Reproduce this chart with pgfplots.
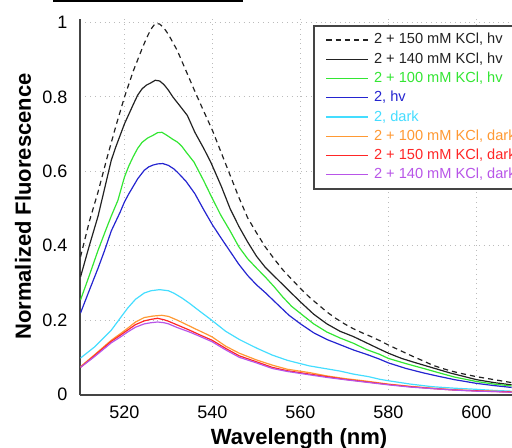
\documentclass[border=0pt]{standalone}
\usepackage{fontspec}
\setmainfont{Liberation Sans}
\usepackage{pgfplots}
\pgfplotsset{compat=1.18}

\definecolor{kBlack} {HTML}{222222}
\definecolor{kGreen} {HTML}{33E633}
\definecolor{kBlue}  {HTML}{2424D0}
\definecolor{kCyan}  {HTML}{44DDFF}
\definecolor{kOrange}{HTML}{FF9933}
\definecolor{kRed}   {HTML}{FF2626}
\definecolor{kPurple}{HTML}{B855E8}
\definecolor{kAxis}  {HTML}{444444}
\definecolor{kGrid}  {HTML}{BBBBBB}

\begin{document}
\begin{tikzpicture}
\path[use as bounding box] (-40.25pt,-26.25pt) rectangle (215.75pt,197.25pt);
\draw[black,line width=1pt] (-13.75pt,196.75pt) -- (81.25pt,196.75pt);
\begin{axis}[
  scale only axis,
  width=216pt, height=188pt,
  xmin=510, xmax=608.2, ymin=0, ymax=1.011,
  axis lines=left,
  axis line style={-,color=kAxis,line width=1pt},
  xtick={520,540,560,580,600},
  ytick={0,0.2,0.4,0.6,0.8,1},
  major tick length=0pt,
  tick label style={font=\fontsize{9}{10}\selectfont,color=black},
  /pgf/number format/assume math mode=true,
  xticklabel style={yshift=-2pt},
  yticklabel style={xshift=-3pt},
  grid=major,
  grid style={dotted,color=kGrid,line width=0.5pt},
  xlabel={\bfseries Wavelength (nm)},
  ylabel={\bfseries Normalized Fluorescence},
  label style={font=\fontsize{11}{12}\selectfont},
  xlabel style={anchor=center,at={(axis description cs:0.506,-0.118)}},
  ylabel style={anchor=center,at={(axis description cs:-0.133,0.5)}},
  legend cell align=left,
  legend image code/.code={\draw[#1] (0pt,0pt) -- (21pt,0pt);},
  legend style={
    at={(0.539,0.984)}, anchor=north west,
    draw=kAxis, line width=1pt, fill=white,
    font=\fontsize{7.3}{9}\selectfont,
    inner xsep=5.75pt, inner ysep=3.6pt,
    row sep=2.44pt,
    nodes={inner sep=0pt, text height=5.6pt, text depth=1.6pt},
    /tikz/every odd column/.append style={column sep=2.5pt},
  },
]
\addplot[kBlack,line width=0.6pt,dash pattern=on 2.6pt off 2pt] coordinates {
(510,0.37)(512,0.465)(514,0.545)(516,0.635)(518,0.72)(520,0.80)(522,0.87)
(524,0.93)(525,0.958)(526,0.982)(527,0.998)(528,0.996)(529,0.985)(530,0.968)
(532,0.925)(534,0.87)(536,0.815)(538,0.762)(540,0.71)(542,0.65)(544,0.59)
(546,0.53)(548,0.475)(550,0.435)(552,0.397)(554,0.365)(556,0.335)(558,0.31)
(560,0.285)(562,0.262)(564,0.242)(566,0.222)(568,0.205)(570,0.19)(572,0.177)
(574,0.166)(576,0.156)(578,0.145)(580,0.133)(582,0.122)(584,0.111)(586,0.100)
(588,0.090)(590,0.079)(592,0.071)(594,0.064)(596,0.058)(598,0.053)(600,0.048)
(602,0.044)(604,0.040)(606,0.036)(608,0.032)};
\addlegendentry{\textcolor{kBlack}{2 + 150 mM KCl, hv}}
\addplot[kBlack,line width=0.6pt] coordinates {
(510,0.316)(512,0.40)(514,0.48)(516,0.58)(517,0.63)(518,0.665)(520,0.728)
(522,0.78)(523,0.805)(524,0.822)(525,0.832)(526,0.838)(527,0.845)(528,0.843)
(529,0.833)(530,0.818)(531,0.80)(533,0.77)(534.3,0.75)(536,0.705)(538,0.662)
(539.6,0.625)(542,0.56)(544,0.5)(546,0.452)(548,0.41)(550,0.372)(552,0.342)
(555,0.307)(558,0.272)(560,0.249)(563,0.216)(566,0.19)(569,0.17)(572,0.156)
(575,0.139)(578,0.122)(580,0.111)(583,0.097)(586,0.086)(590,0.072)(594,0.058)
(598,0.046)(600,0.040)(604,0.032)(608,0.026)};
\addlegendentry{\textcolor{kBlack}{2 + 140 mM KCl, hv}}
\addplot[kGreen,line width=0.6pt] coordinates {
(510,0.254)(512,0.32)(514,0.388)(516,0.45)(517,0.48)(518.5,0.522)(520,0.585)
(521,0.615)(522,0.64)(523,0.662)(524,0.678)(525.3,0.69)(526.5,0.697)(527.5,0.704)
(528.5,0.705)(529.5,0.698)(531,0.686)(532,0.679)(533,0.668)(534,0.652)
(535.8,0.625)(538,0.575)(539.6,0.536)(541.9,0.482)(544,0.44)(546,0.397)
(548,0.365)(550,0.34)(552,0.316)(554,0.29)(556,0.262)(558,0.237)(560,0.218)
(563,0.19)(566,0.168)(569,0.152)(572,0.138)(575,0.121)(578,0.108)(580,0.097)
(584,0.083)(588,0.07)(591,0.06)(595,0.047)(600,0.035)(604,0.028)(608,0.023)};
\addlegendentry{\textcolor{kGreen}{2 + 100 mM KCl, hv}}
\addplot[kBlue,line width=0.6pt] coordinates {
(510,0.219)(512,0.28)(514,0.34)(515.5,0.388)(517,0.44)(519,0.49)(520,0.518)
(521,0.54)(522,0.56)(523,0.58)(524.5,0.603)(525.5,0.612)(526.5,0.617)
(527.5,0.62)(528.7,0.621)(530,0.616)(531.3,0.606)(532.5,0.592)(534,0.573)
(536,0.54)(538,0.497)(540,0.456)(542,0.42)(544,0.385)(546,0.35)(548,0.32)
(550,0.295)(552,0.274)(555,0.24)(557.4,0.213)(560,0.19)(563,0.166)(566,0.148)
(569,0.134)(572,0.12)(575.5,0.106)(578,0.095)(580,0.085)(584,0.07)(588,0.058)
(591,0.05)(595,0.04)(600,0.03)(604,0.024)(608,0.019)};
\addlegendentry{\textcolor{kBlue}{2, hv}}
\addplot[kCyan,line width=0.6pt] coordinates {
(510,0.098)(513.2,0.128)(517,0.173)(519,0.205)(520.7,0.232)(522.5,0.256)
(524.5,0.273)(526,0.279)(528,0.282)(530,0.279)(531.3,0.272)(533,0.26)
(534.8,0.245)(536,0.234)(538,0.216)(539.8,0.2)(543,0.17)(546.1,0.148)
(550,0.125)(553.6,0.106)(557,0.092)(560,0.083)(562,0.077)(566,0.069)(569,0.063)
(572,0.055)(575.5,0.048)(578,0.041)(580,0.037)(585,0.028)(590,0.021)(595,0.017)
(600,0.014)(604,0.011)(608,0.009)};
\addlegendentry{\textcolor{kCyan}{2, dark}}
\addplot[kOrange,line width=0.6pt] coordinates {
(510,0.075)(513,0.105)(517,0.146)(519,0.163)(520.7,0.178)(522.5,0.195)
(524.5,0.207)(526.5,0.211)(528.5,0.213)(530,0.21)(532,0.2)(534.8,0.184)
(536,0.177)(538,0.166)(539.9,0.155)(543,0.13)(546.1,0.111)(550,0.093)
(553.6,0.079)(557,0.068)(562,0.059)(566,0.05)(570,0.043)(575,0.036)(580,0.028)
(585,0.022)(590,0.017)(595,0.013)(600,0.01)(604,0.009)(608,0.007)};
\addlegendentry{\textcolor{kOrange}{2 + 100 mM KCl, dark}}
\addplot[kRed,line width=0.6pt] coordinates {
(510,0.073)(513,0.103)(517,0.143)(519,0.159)(520.7,0.173)(522.5,0.188)
(524.5,0.198)(526,0.202)(527.5,0.205)(529,0.201)(530,0.197)(532,0.187)
(534.8,0.173)(537,0.161)(539.9,0.146)(543,0.124)(546.1,0.104)(550,0.088)
(553.6,0.073)(557,0.064)(562,0.055)(566,0.048)(570,0.041)(575,0.034)(580,0.027)
(585,0.021)(590,0.016)(595,0.012)(600,0.01)(604,0.008)(608,0.007)};
\addlegendentry{\textcolor{kRed}{2 + 150 mM KCl, dark}}
\addplot[kPurple,line width=0.6pt] coordinates {
(510,0.073)(513,0.1)(517,0.139)(519,0.154)(520.7,0.168)(522.5,0.181)
(524.5,0.19)(526,0.193)(527.5,0.195)(529,0.193)(530,0.19)(532,0.18)
(534.8,0.168)(537,0.157)(539.9,0.142)(543,0.12)(546.1,0.1)(550,0.085)
(553.6,0.07)(557,0.062)(562,0.053)(566,0.046)(570,0.04)(575,0.033)(580,0.026)
(585,0.02)(590,0.016)(595,0.012)(600,0.009)(604,0.008)(608,0.006)};
\addlegendentry{\textcolor{kPurple}{2 + 140 mM KCl, dark}}
\end{axis}
\end{tikzpicture}
\end{document}
